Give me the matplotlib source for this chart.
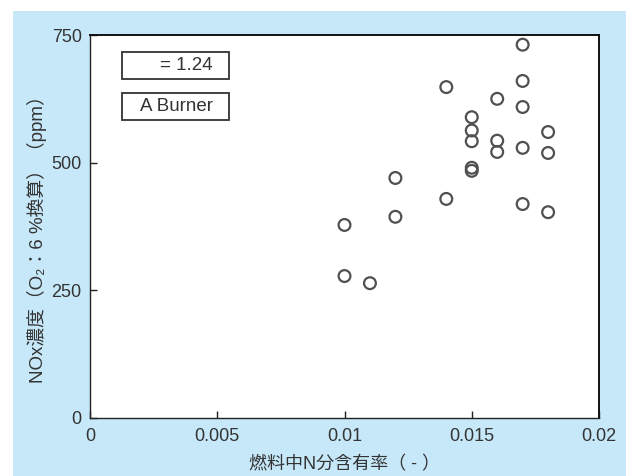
import matplotlib.pyplot as plt
from matplotlib.patches import Rectangle

plt.rcParams['font.family'] = ['Liberation Sans', 'Noto Sans CJK JP', 'DejaVu Sans']

# fuel nitrogen content vs NOx (O2 6% basis)
fuel_n = [0.010, 0.010, 0.011, 0.012, 0.012, 0.014, 0.014,
          0.015, 0.015, 0.015, 0.015, 0.015,
          0.016, 0.016, 0.016,
          0.017, 0.017, 0.017, 0.017, 0.017,
          0.018, 0.018, 0.018]
nox_ppm = [378, 278, 264, 470, 394, 648, 429,
           589, 563, 542, 490, 484,
           625, 543, 521,
           731, 660, 609, 529, 419,
           560, 519, 403]

x_ticks = [0, 0.005, 0.01, 0.015, 0.02]
x_ticklabels = ['0', '0.005', '0.01', '0.015', '0.02']
y_ticks = [0, 250, 500, 750]

bg = '#c6e8f9'
txt = '#333333'

fig = plt.figure(figsize=(6.26, 4.76), dpi=100)
fig.patch.set_facecolor('white')
fig.patches.append(Rectangle((13 / 626, 0), 1 - 13 / 626, 1 - 11 / 476,
                             transform=fig.transFigure, facecolor=bg,
                             edgecolor='none', zorder=-10))

ax = fig.add_axes([90 / 626, 1 - 418 / 476, 509 / 626, 383 / 476])
ax.set_facecolor('white')

ax.scatter(fuel_n, nox_ppm, s=72, facecolors='none', edgecolors='#505050',
           linewidths=1.6, zorder=3)

ax.set_xlim(0, 0.02)
ax.set_ylim(0, 750)
ax.set_xticks(x_ticks)
ax.set_xticklabels(x_ticklabels)
ax.set_yticks(y_ticks)
ax.tick_params(direction='in', length=5, width=1, colors='#222222',
               labelcolor=txt, labelsize=13, pad=6)
ax.tick_params(axis='x', pad=7)
for side in ['left', 'bottom']:
    ax.spines[side].set_linewidth(1.0)
    ax.spines[side].set_color('#222222')
for side in ['top', 'right']:
    ax.spines[side].set_linewidth(1.4)
    ax.spines[side].set_color('#111111')

ax.set_xlabel('燃料中N分含有率（ - ）', fontsize=13, color=txt, labelpad=8)
ax.set_ylabel('NOx濃度（O₂：6 %換算）（ppm）', fontsize=13.5, color=txt)
ax.yaxis.set_label_coords(-0.084, 0.478)

# two fixed-width label boxes in the upper left
for y0, label in [(0.8851, '= 1.24'), (0.7781, 'A Burner')]:
    ax.add_patch(Rectangle((0.0629, y0), 0.2102, 0.0705,
                           transform=ax.transAxes, facecolor='white',
                           edgecolor='#333333', linewidth=1.3, zorder=4))
    ax.text(0.2417, y0 + 0.0352, label, transform=ax.transAxes, ha='right',
            va='center', fontsize=13.5, color=txt, zorder=5)

plt.savefig('out.png', dpi=100)
